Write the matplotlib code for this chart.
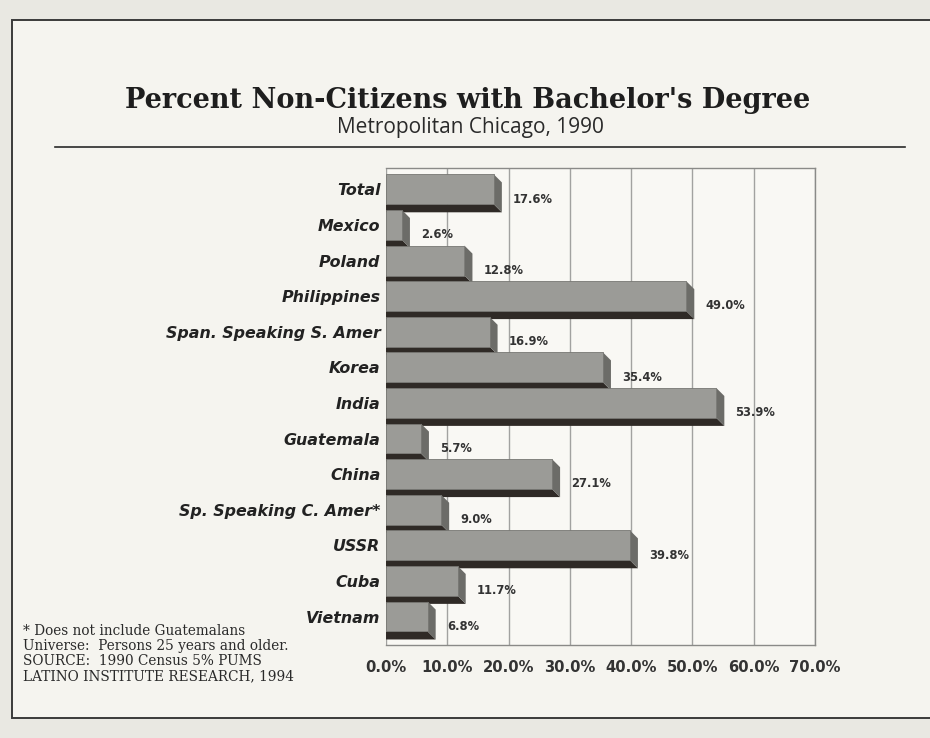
import matplotlib.pyplot as plt
from matplotlib.patches import Polygon, Rectangle
from matplotlib.lines import Line2D

# percent of non-citizens (25+) holding a bachelor's degree, by origin
countries = ["Total", "Mexico", "Poland", "Philippines", "Span. Speaking S. Amer",
             "Korea", "India", "Guatemala", "China", "Sp. Speaking C. Amer*",
             "USSR", "Cuba", "Vietnam"]
pct = [17.6, 2.6, 12.8, 49.0, 16.9, 35.4, 53.9, 5.7, 27.1, 9.0, 39.8, 11.7, 6.8]
xticks = [0, 10, 20, 30, 40, 50, 60, 70]

notes = ["* Does not include Guatemalans",
         "Universe:  Persons 25 years and older.",
         "SOURCE:  1990 Census 5% PUMS",
         "LATINO INSTITUTE RESEARCH, 1994"]

W, H = 930, 738
fig = plt.figure(figsize=(W / 100, H / 100), dpi=100)
fig.patch.set_facecolor("#e9e8e2")

# page box
fig.patches.append(Rectangle((12 / W, 1 - 718 / H), 930 / W, (718 - 20) / H,
                             transform=fig.transFigure, facecolor="#f5f4ef",
                             edgecolor="#3a3a3a", linewidth=1.4, zorder=-10))

fig.text(468 / W, 1 - 100 / H, "Percent Non-Citizens with Bachelor's Degree",
         ha="center", va="center", fontsize=19.5, fontweight="bold",
         family="DejaVu Serif", color="#1e1e1e")
fig.text(470 / W, 1 - 127 / H, "Metropolitan Chicago, 1990",
         ha="center", va="center", fontsize=15, family="Open Sans", color="#2a2a2a")
fig.lines.append(Line2D([55 / W, 905 / W], [1 - 147 / H, 1 - 147 / H],
                        transform=fig.transFigure, color="#2a2a2a", linewidth=1.2))

for i, line in enumerate(notes):
    fig.text(23 / W, 1 - (631 + i * 15) / H, line, ha="left", va="center",
             fontsize=9.8, family="DejaVu Serif", color="#2a2a2a")

ax = fig.add_axes([386 / W, 1 - 645 / H, (815 - 386) / W, (645 - 168) / H])
ax.set_facecolor("#f9f8f4")
n = len(countries)
ylo, yhi = n - 0.2, -0.6
ax.set_xlim(0, 70)
ax.set_ylim(ylo, yhi)

ax.spines["left"].set_visible(False)
for s in ["top", "right", "bottom"]:
    ax.spines[s].set_color("#8a8a88")
    ax.spines[s].set_linewidth(1.0)

ax.set_xticks(xticks)
ax.set_xticklabels([f"{t:.1f}%" for t in xticks], fontsize=10.6, fontweight="bold",
                   family="DejaVu Sans", color="#333333")
ax.tick_params(axis="x", length=0, pad=11)
ax.set_yticks(range(n))
ax.set_yticklabels(countries, fontsize=11.4, fontweight="bold", style="italic",
                   family="DejaVu Sans", color="#222222")
ax.tick_params(axis="y", length=0, pad=4)
ax.xaxis.grid(True, color="#a2a2a0", linewidth=1.0)
ax.set_axisbelow(True)

# depth of the 3D extrusion, converted from pixels to data units
depth_px = 8
px_x = ax.get_position().width * W / 70
px_y = ax.get_position().height * H / (ylo - yhi)
dx, dy = depth_px / px_x, depth_px / px_y
h = 0.42

# each bar drawn over the one above it
for i, v in enumerate(pct):
    z = 2 + i * 3
    ax.add_patch(Polygon([(0, i + h), (v, i + h), (v + dx, i + h + dy), (0, i + h + dy)],
                         closed=True, facecolor="#2f2a26", edgecolor="none", zorder=z))
    ax.add_patch(Polygon([(v, i - h), (v + dx, i - h + dy), (v + dx, i + h + dy), (v, i + h)],
                         closed=True, facecolor="#6c6c68", edgecolor="none", zorder=z))
    ax.barh(i, v, height=2 * h, color="#9b9b97", edgecolor="#777773",
            linewidth=0.6, zorder=z + 1)

for i, v in enumerate(pct):
    ax.annotate(f"{v:.1f}%", xy=(v, i), xytext=(depth_px * 0.72 + 8, -7),
                textcoords="offset points", ha="left", va="center",
                fontsize=8.3, fontweight="bold", family="DejaVu Sans",
                color="#333333", zorder=60)

fig.savefig("out.png", dpi=100, facecolor=fig.get_facecolor())
